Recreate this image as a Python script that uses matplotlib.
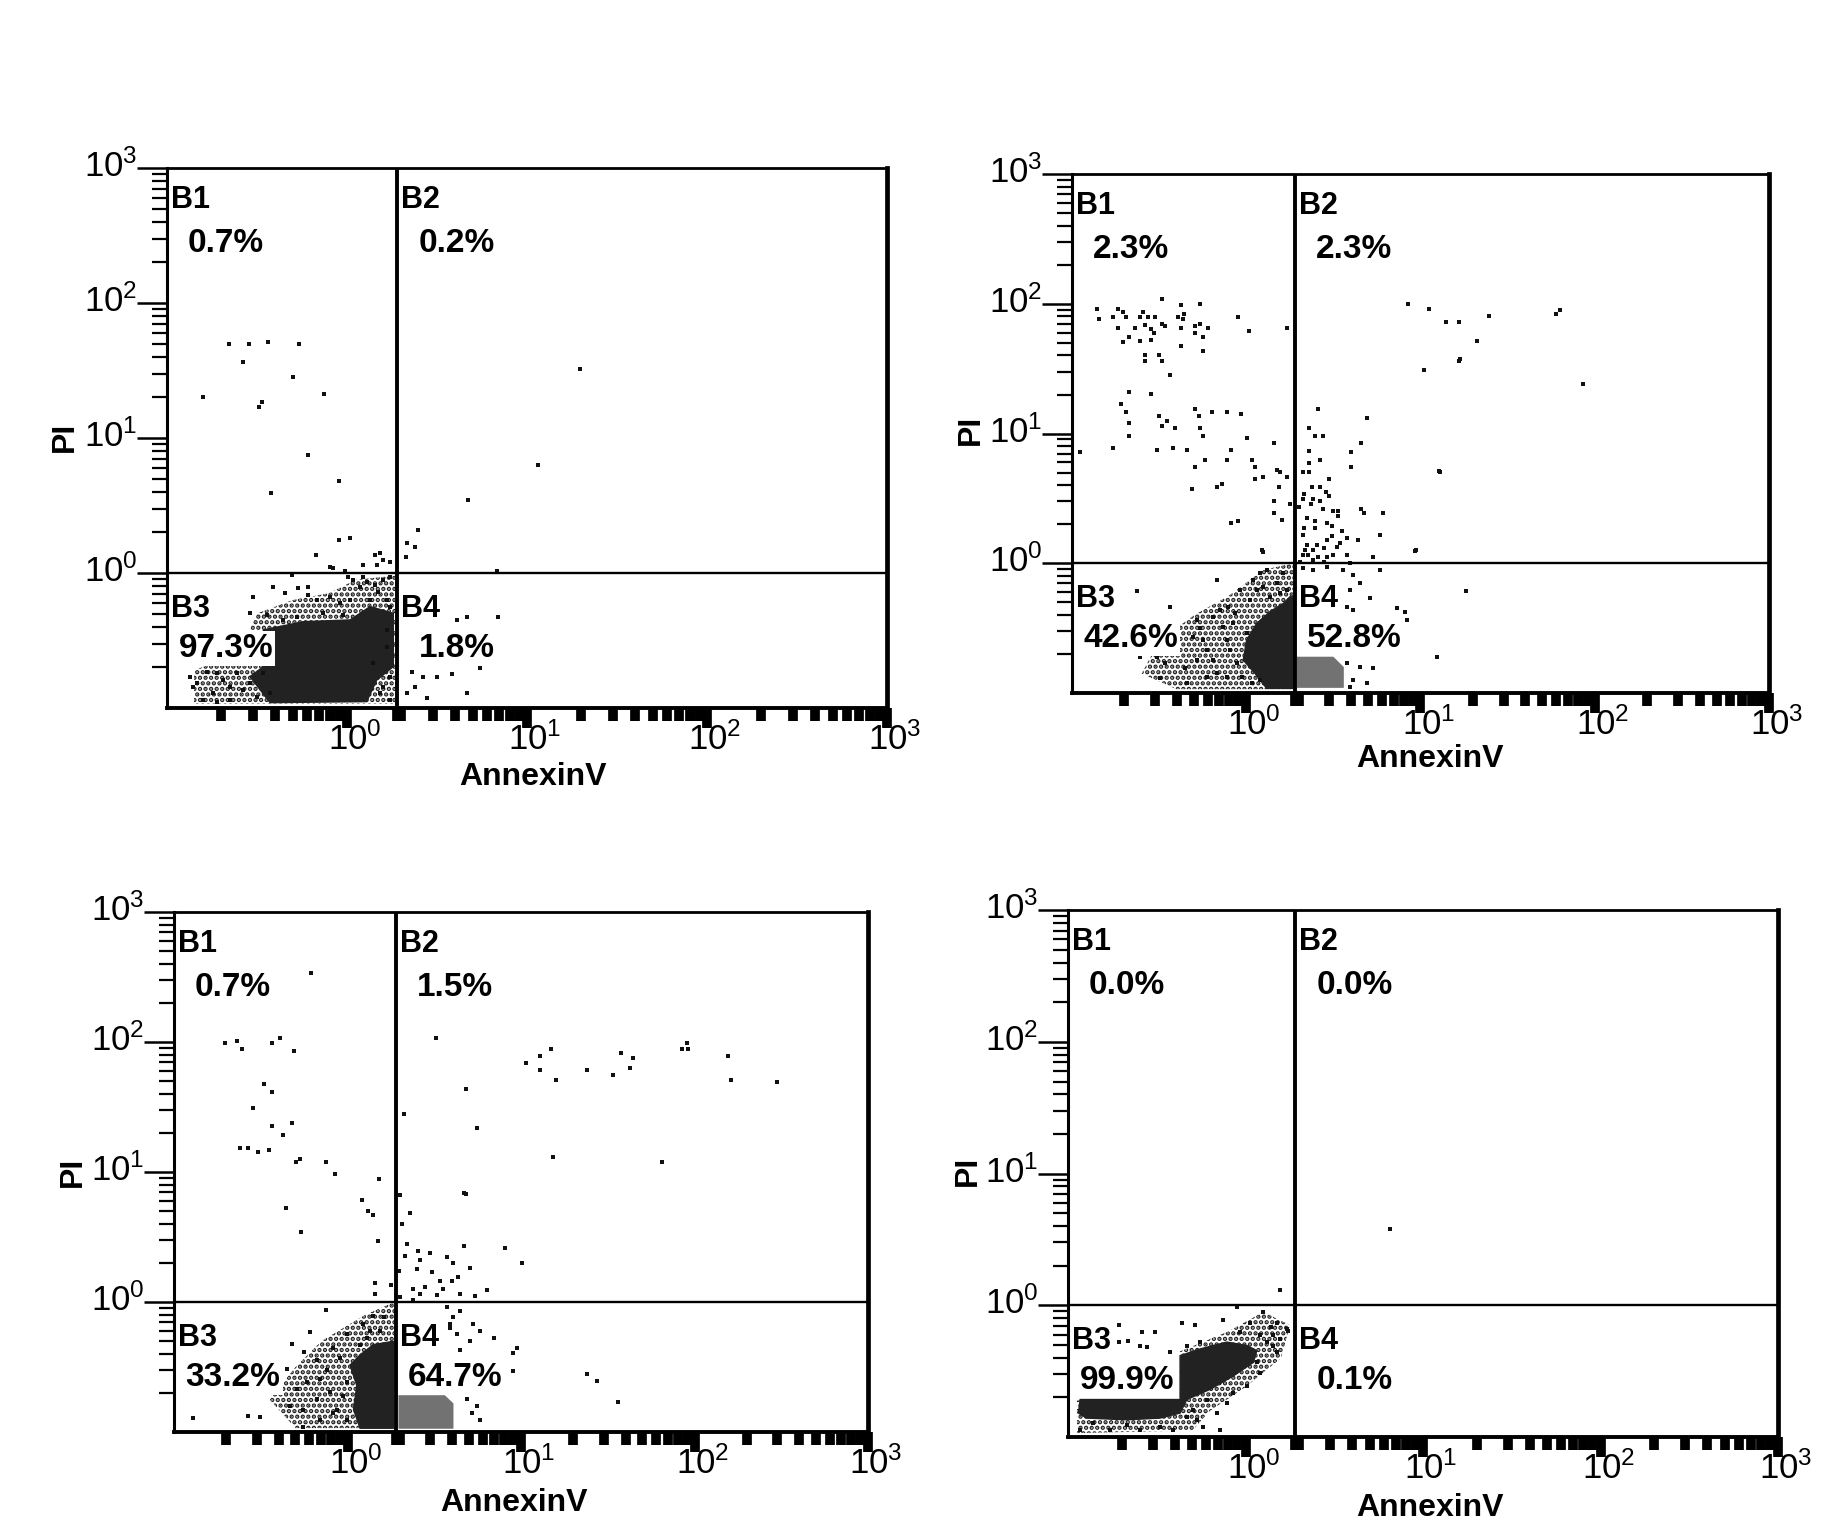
import numpy as np
import matplotlib
matplotlib.use("Agg")
import matplotlib.pyplot as plt
from matplotlib.ticker import FixedLocator, FixedFormatter, NullFormatter
from matplotlib.patches import Polygon
import matplotlib.transforms as mtrans

plt.rcParams['font.family'] = ['Liberation Sans', 'DejaVu Sans']
plt.rcParams['mathtext.fontset'] = 'custom'
plt.rcParams['mathtext.rm'] = 'Liberation Sans'
plt.rcParams['mathtext.it'] = 'Liberation Sans'
plt.rcParams['mathtext.bf'] = 'Liberation Sans:bold'
plt.rcParams['hatch.linewidth'] = 2.2

# ---------------- data (log10 decade exponents) ----------------
quadrant_names = ["B1", "B2", "B3", "B4"]
gate_annexin_log = 0.28     # vertical gate (AnnexinV)
gate_pi_log = 0.0           # horizontal gate (PI)

tick_values = [1, 10, 100, 1000]
tick_labels = [r'$\mathregular{10^{0}}$', r'$\mathregular{10^{1}}$',
               r'$\mathregular{10^{2}}$', r'$\mathregular{10^{3}}$']

# Panel 1
p1_pct = ["0.7%", "0.2%", "97.3%", "1.8%"]
p1_dots_x = [-0.656, -0.544, -0.437, -0.265, -0.580, -0.298, -0.798, -0.128, -0.474, -0.487,
             -0.218, -0.046, -0.422, -0.043, 0.017, -0.172, 0.156, 0.183,
             -0.011, 0.091, 0.202, -0.094, 0.239, 0.165,
             1.063, 0.674, 0.393, 0.332, 0.378, 0.328, 1.294, 0.833,
             0.665, 0.841, 0.609, 0.498, 0.582, 0.424, 0.665, 0.359, 0.378, 0.332, 0.443, 0.739,
             -0.520, -0.409, -0.344, -0.270, -0.215, -0.215, -0.169, -0.094, -0.039, 0.017,
             0.035, 0.072, 0.109, 0.156, 0.202, 0.239, 0.174, 0.220, 0.128, -0.020,
             -0.131, -0.280, -0.354, -0.446, -0.539, 0.239, -0.307, 0.007, -0.076, 0.091,
             -0.872, -0.835, -0.798, -0.743, -0.724, -0.687, -0.650, -0.613, -0.576, -0.539,
             -0.502, -0.650, -0.780, -0.724, -0.465, -0.428, -0.854,
             0.220, 0.239, 0.202, 0.183, 0.239, 0.146, 0.220]
p1_dots_y = [1.696, 1.696, 1.714, 1.696, 1.565, 1.449, 1.304, 1.324, 1.264, 1.232,
             0.874, 0.684, 0.595, 0.244, 0.257, 0.133, 0.133, 0.146,
             0.017, 0.059, 0.096, 0.047, 0.084, 0.059,
             0.800, 0.541, 0.319, 0.225, 0.190, 0.116, 1.511, 0.015,
             -0.324, -0.324, -0.348, -0.768, -0.748, -0.768, -0.891, -0.731, -0.842, -0.891, -0.928, -0.706,
             -0.175, -0.101, -0.151, -0.114, -0.101, -0.163, -0.200, -0.175, -0.225, -0.200,
             -0.052, -0.101, -0.064, -0.089, -0.052, -0.027, -0.138, -0.200, -0.200, -0.311,
             -0.299, -0.323, -0.348, -0.311, -0.299, -0.249, -0.015, -0.027, 0.035, -0.027,
             -0.768, -0.817, -0.941, -0.891, -0.743, -0.793, -0.842, -0.743, -0.867, -0.817,
             -0.916, -0.941, -0.731, -0.953, -0.743, -0.891, -0.842,
             -0.546, -0.768, -0.842, -0.891, -0.941, -0.669, -0.422]
p1_core_x = [-0.465, -0.243, 0.017, 0.128, 0.257, 0.257, 0.165, 0.109, -0.428, -0.539, -0.465]
p1_core_y = [-0.422, -0.361, -0.348, -0.249, -0.299, -0.694, -0.793, -0.953, -0.961, -0.768, -0.694]
p1_halo_x = [-0.85, -0.60, -0.50, -0.30, -0.10, 0.05, 0.27, 0.27, -0.85]
p1_halo_y = [-0.72, -0.60, -0.30, -0.20, -0.15, -0.05, -0.02, -0.97, -0.97]
p1_gray_x = []
p1_gray_y = []

# Panel 2
p2_pct = ["2.3%", "2.3%", "42.6%", "52.8%"]
p2_dots_x = [-0.485, -0.374, -0.265, -0.858, -0.734, -0.705, -0.594, -0.843, -0.763, -0.690,
             -0.610, -0.562, -0.524, -0.390, -0.357, -0.361, -0.045, -0.734, -0.638, -0.581,
             -0.549, -0.485, -0.466, -0.376, -0.294, -0.265, -0.218, 0.018, 0.236, -0.671,
             -0.527, -0.705, -0.610, -0.549, -0.294, -0.250, -0.374, -0.250, -0.581, -0.499,
             -0.579, -0.483, -0.438, -0.671, -0.549, -0.719, -0.690, -0.501, -0.453, -0.294,
             -0.271, -0.198, -0.109, -0.030, -0.673, -0.483, -0.407, -0.265, -0.250, -0.673,
             0.002, 0.159, -0.954, -0.763, -0.514, -0.422, -0.342, -0.089, -0.235, -0.109,
             0.035, -0.296, 0.050, 0.175, 0.194, 0.094, 0.236, 0.050, -0.311, -0.170,
             -0.137, 0.190, 0.159, 0.159, 0.251, 0.205, -0.089, -0.045, 0.088, 0.094,
             0.926, 1.051, 1.146, 1.221, 1.221, 1.020, 0.410, 0.691, 0.362, 0.395,
             0.442, 0.657, 0.362, 0.362, 0.423, 0.599, 0.599, 1.112, 0.328, 0.362,
             0.477, 0.375, 0.423, 0.458, 0.333, 0.473, 0.328, 0.385, 0.423, 0.370,
             0.442, 0.496, 0.528, 0.659, 0.676, 0.783, 0.347, 0.395, 0.461, 0.528,
             0.333, 0.395, 0.490, 0.549, 0.328, 0.461, 0.490, 0.580, 0.643, 0.768,
             0.347, 0.404, 0.337, 0.385, 0.446, 0.519, 0.538, 0.328, 0.356, 0.414,
             0.461, 0.500, 0.576, 0.725, 0.974, 0.308, 0.385, 0.446, 0.595, 0.303,
             1.801, 1.778, 1.933, 1.393, 1.324, 1.227, 1.106, 0.968,
             -0.629, -0.438, -0.610, -0.514, -0.495, -0.466, -0.352, -0.342, -0.285, -0.265,
             -0.246, -0.227, -0.189, -0.170, -0.151, -0.132, -0.112, -0.103, -0.093, -0.074,
             -0.055, -0.036, -0.026, 0.002, 0.022, 0.041, 0.060, 0.079, 0.098, 0.117,
             0.136, 0.175, 0.194, 0.213, 0.232, -0.170, -0.112, -0.227, -0.399, -0.304,
             -0.189, 0.031, 0.079, -0.065, -0.285,
             0.328, 0.385, 0.461, 0.557, 0.615, 0.653, 0.595, 0.576, 0.615, 0.710,
             0.863, 0.911, 0.921, 0.768, 1.093, 0.576, 0.653, 0.615, 0.729, 0.691,
             0.595, 1.261]
p2_dots_y = [2.034, 1.990, 1.998, 1.957, 1.957, 1.934, 1.934, 1.880, 1.900, 1.900,
             1.900, 1.900, 1.900, 1.900, 1.918, 1.880, 1.900, 1.810, 1.810, 1.836,
             1.805, 1.844, 1.829, 1.810, 1.829, 1.844, 1.810, 1.790, 1.810, 1.746,
             1.772, 1.708, 1.713, 1.721, 1.772, 1.746, 1.677, 1.638, 1.605, 1.605,
             1.561, 1.561, 1.453, 1.317, 1.302, 1.230, 1.168, 1.132, 1.096, 1.186,
             1.132, 1.168, 1.168, 1.150, 1.078, 1.060, 1.042, 1.042, 0.981, 0.981,
             0.963, 0.927, 0.855, 0.891, 0.873, 0.891, 0.873, 0.873, 0.796, 0.796,
             0.796, 0.739, 0.739, 0.719, 0.701, 0.667, 0.667, 0.647, 0.570, 0.590,
             0.608, 0.590, 0.480, 0.385, 0.457, 0.333, 0.313, 0.328, 0.102, 0.089,
             1.998, 1.957, 1.862, 1.862, 1.561, 1.489, 1.186, 1.117, 1.042, 0.981,
             0.981, 0.927, 0.863, 0.775, 0.796, 0.855, 0.739, 0.703, 0.701, 0.701,
             0.647, 0.590, 0.590, 0.552, 0.534, 0.516, 0.498, 0.498, 0.482, 0.457,
             0.416, 0.400, 0.400, 0.421, 0.385, 0.385, 0.346, 0.328, 0.313, 0.364,
             0.269, 0.269, 0.287, 0.251, 0.215, 0.179, 0.213, 0.195, 0.179, 0.215,
             0.141, 0.141, 0.102, 0.102, 0.120, 0.128, 0.153, 0.064, 0.064, 0.051,
             0.051, 0.064, 0.064, 0.046, 0.102, 0.012, 0.025, 0.012, 0.005, 0.436,
             1.952, 1.921, 1.382, 1.906, 1.713, 1.574, 0.711, 0.094,
             -0.211, -0.335, -0.720, -0.720, -0.887, -0.771, -0.810, -0.925, -0.437, -0.502,
             -0.592, -0.669, -0.412, -0.129, -0.360, -0.489, -0.592, -0.335, -0.669, -0.463,
             -0.771, -0.206, -0.874, -0.540, -0.283, -0.129, -0.206, -0.078, -0.180, -0.052,
             -0.258, -0.155, -0.232, -0.078, -0.206, -0.848, -0.874, -0.874, -0.592, -0.566,
             -0.746, -0.925, -0.900, -0.386, -0.746,
             -0.039, -0.052, -0.026, -0.052, -0.091, -0.155, -0.206, -0.335, -0.360, -0.270,
             -0.347, -0.373, -0.437, -0.052, -0.720, -0.771, -0.797, -0.900, -0.810, -0.925,
             -0.951, -0.214]
p2_core_x = [0.251, 0.270, 0.270, 0.117, 0.050, -0.017, 0.002, 0.060, 0.136, 0.213]
p2_core_y = [-0.258, -0.258, -0.964, -0.964, -0.848, -0.746, -0.592, -0.463, -0.373, -0.309]
p2_halo_x = [-0.50, -0.30, -0.10, 0.10, 0.27, 0.27, -0.40, -0.60]
p2_halo_y = [-0.60, -0.40, -0.25, -0.05, 0.00, -0.97, -0.97, -0.85]
p2_gray_x = [0.29, 0.50, 0.56, 0.56, 0.29]
p2_gray_y = [-0.72, -0.72, -0.80, -0.96, -0.96]

# Panel 3
p3_pct = ["0.7%", "1.5%", "33.2%", "64.7%"]
p3_dots_x = [-0.704, -0.640, -0.607, -0.437, -0.392, -0.309, -0.482, -0.434, -0.545, -0.434,
             -0.323, -0.373, -0.621, -0.574, -0.517, -0.451, -0.295, -0.276, -0.124, -0.075,
             0.183, -0.210,
             -0.356, -0.270, 0.082, 0.120, 0.145, 0.174, 0.158, 0.158, 0.249,
             0.509, 1.171, 1.110, 1.029, 1.110, 1.199, 1.377, 1.531, 1.578, 1.644,
             1.630, 1.928, 1.961, 1.958, 2.193, 2.209, 2.477, 0.684, 0.325, 0.746,
             1.186, 1.814, 0.684,
             0.673, 0.303, 0.360, 0.316, 0.345, 0.673, 0.908, 1.004, 0.331, 0.408,
             0.472, 0.418, 0.572, 0.606, 0.706, 0.402, 0.485, 0.299, 0.447, 0.533,
             0.600, 0.639, 0.379, 0.418, 0.514, 0.552, 0.648, 0.735, 0.802, 0.303, 0.379,
             -0.126, -0.216, -0.322, -0.251, -0.005, 0.091, 0.149, 0.207, 0.130, 0.187,
             -0.082, -0.043, -0.178, -0.120, -0.159, -0.235, -0.293, -0.331, -0.255, -0.178,
             -0.101, -0.062, -0.005, -0.024, -0.159, -0.255, -0.504, -0.572, -0.889, -0.562,
             -0.351, -0.005, -0.082, 0.072, 0.110,
             0.572, 0.648, 0.610, 0.725, 0.764, 0.841, 0.975, 0.956, 0.956, 1.378,
             1.436, 0.591, 0.629, 0.706, 0.648, 0.744, 0.764, 0.687, 0.716, 0.591, 1.559]
p3_dots_y = [1.990, 2.008, 1.949, 1.990, 2.028, 1.931, 1.674, 1.616, 1.489, 1.356,
             1.374, 1.285, 1.188, 1.188, 1.153, 1.170, 1.079, 1.099, 1.079, 0.987,
             0.949, 2.527,
             0.725, 0.542, 0.781, 0.700, 0.667, 0.466, 0.145, 0.059, 0.127,
             2.028, 1.949, 1.895, 1.842, 1.784, 1.710, 1.784, 1.746, 1.914, 1.878,
             1.802, 1.949, 1.949, 1.990, 1.895, 1.710, 1.692, 1.639, 1.448, 1.338,
             1.117, 1.079, 0.834,
             0.835, 0.822, 0.687, 0.598, 0.445, 0.427, 0.412, 0.298, 0.356, 0.394,
             0.374, 0.323, 0.344, 0.298, 0.262, 0.254, 0.229, 0.242, 0.115, 0.165,
             0.165, 0.191, 0.102, 0.064, 0.051, 0.102, 0.059, 0.043, 0.094, 0.038, 0.018,
             -0.058, -0.228, -0.320, -0.381, -0.244, -0.171, -0.105, -0.113, -0.223, -0.223,
             -0.354, -0.433, -0.446, -0.525, -0.591, -0.617, -0.669, -0.801, -0.827, -0.748,
             -0.696, -0.827, -0.617, -0.722, -0.906, -0.958, -0.885, -0.879, -0.892, -0.696,
             -0.512, -0.906, -0.853, -0.328, -0.276,
             -0.039, -0.066, -0.118, -0.171, -0.223, -0.276, -0.354, -0.394, -0.533, -0.551,
             -0.609, -0.197, -0.249, -0.302, -0.367, -0.801, -0.906, -0.748, -0.853, -0.171, -0.772]
p3_core_x = [0.149, 0.264, 0.264, 0.072, 0.034, 0.053, 0.014, 0.072]
p3_core_y = [-0.328, -0.302, -0.971, -0.971, -0.827, -0.643, -0.486, -0.407]
p3_halo_x = [-0.45, -0.30, -0.15, 0.10, 0.27, 0.27, -0.30]
p3_halo_y = [-0.75, -0.50, -0.30, -0.10, 0.00, -0.97, -0.97]
p3_gray_x = [0.293, 0.560, 0.610, 0.610, 0.293]
p3_gray_y = [-0.717, -0.717, -0.780, -0.975, -0.975]

# Panel 4
p4_pct = ["0.0%", "0.0%", "99.9%", "0.1%"]
p4_dots_x = [-0.716, -0.585, -0.510, -0.660, -0.594, -0.557, -0.716, -0.360, -0.285, -0.125,
             -0.050, 0.025, 0.097, 0.142, 0.179, 0.241, 0.232, -0.031, 0.082, 0.119,
             0.157, 0.176, 0.082, 0.063, 0.007, -0.069, -0.106, -0.162, -0.219, -0.294,
             -0.275, -0.331, -0.407, -0.144, -0.238, -0.482, -0.594, -0.763, -0.932, -0.857,
             -0.669, -0.331, -0.425, -0.256, 0.157, 0.194,
             0.194, 0.814]
p4_dots_y = [-0.146, -0.203, -0.203, -0.267, -0.305, -0.318, -0.279, -0.131, -0.146, -0.108,
             -0.013, -0.131, -0.054, -0.164, -0.131, -0.197, -0.177, -0.203, -0.228, -0.279,
             -0.305, -0.356, -0.510, -0.433, -0.613, -0.664, -0.741, -0.818, -0.715, -0.792,
             -0.869, -0.844, -0.946, -0.946, -0.921, -0.921, -0.946, -0.946, -0.946, -0.895,
             -0.908, -0.305, -0.356, -0.279, -0.228, -0.254,
             0.116, 0.582]
p4_core_x = [-0.932, -0.369, -0.369, -0.256, -0.106, 0.007, 0.063, 0.044, -0.069, -0.200,
             -0.331, -0.369, -0.482, -0.669, -0.895, -0.942]
p4_core_y = [-0.715, -0.715, -0.382, -0.331, -0.279, -0.305, -0.344, -0.433, -0.536, -0.638,
             -0.715, -0.818, -0.856, -0.869, -0.856, -0.818]
p4_halo_x = [-0.95, -0.95, -0.37, -0.37, -0.10, 0.10, 0.25, 0.20, 0.00, -0.20, -0.30]
p4_halo_y = [-0.97, -0.72, -0.72, -0.35, -0.20, -0.05, -0.15, -0.40, -0.62, -0.80, -0.95]
p4_gray_x = []
p4_gray_y = []

panels = [
    dict(rect=[0.0905, 0.5388, 0.3900, 0.3518], pct=p1_pct, dx=p1_dots_x, dy=p1_dots_y,
         cx=p1_core_x, cy=p1_core_y, hx=p1_halo_x, hy=p1_halo_y, gx=p1_gray_x, gy=p1_gray_y,
         pi=(-0.142, 0.502), ann=(0.508, -0.128)),
    dict(rect=[0.5807, 0.5485, 0.3776, 0.3381], pct=p2_pct, dx=p2_dots_x, dy=p2_dots_y,
         cx=p2_core_x, cy=p2_core_y, hx=p2_halo_x, hy=p2_halo_y, gx=p2_gray_x, gy=p2_gray_y,
         pi=(-0.145, 0.507), ann=(0.514, -0.127)),
    dict(rect=[0.0943, 0.0671, 0.3760, 0.3388], pct=p3_pct, dx=p3_dots_x, dy=p3_dots_y,
         cx=p3_core_x, cy=p3_core_y, hx=p3_halo_x, hy=p3_halo_y, gx=p3_gray_x, gy=p3_gray_y,
         pi=(-0.146, 0.500), ann=(0.489, -0.137)),
    dict(rect=[0.5786, 0.0638, 0.3846, 0.3433], pct=p4_pct, dx=p4_dots_x, dy=p4_dots_y,
         cx=p4_core_x, cy=p4_core_y, hx=p4_halo_x, hy=p4_halo_y, gx=p4_gray_x, gy=p4_gray_y,
         pi=(-0.141, 0.505), ann=(0.510, -0.135)),
]

fig = plt.figure(figsize=(18.46, 15.35), dpi=100)

def pow10(a):
    return np.power(10.0, np.asarray(a, dtype=float))

for p in panels:
    ax = fig.add_axes(p['rect'])
    ax.set_xscale('log')
    ax.set_yscale('log')
    ax.set_xlim(0.1, 1000)
    ax.set_ylim(0.1, 1000)

    # density regions
    if len(p['hx']):
        ax.add_patch(Polygon(np.column_stack([pow10(p['hx']), pow10(p['hy'])]),
                             closed=True, facecolor='none', edgecolor='#1e1e1e',
                             linewidth=0, hatch='...', zorder=1))
    if len(p['gx']):
        ax.add_patch(Polygon(np.column_stack([pow10(p['gx']), pow10(p['gy'])]),
                             closed=True, facecolor='#727272', edgecolor='none', zorder=2))
    ax.add_patch(Polygon(np.column_stack([pow10(p['cx']), pow10(p['cy'])]),
                         closed=True, facecolor='#222222', edgecolor='#222222',
                         linewidth=1, zorder=2))
    ax.plot(pow10(p['dx']), pow10(p['dy']), linestyle='none', marker='s',
            markersize=2.6, markeredgewidth=0, color='#111111', zorder=3)

    # quadrant gates
    gx = 10 ** gate_annexin_log
    gy = 10 ** gate_pi_log
    ax.axvline(gx, color='black', linewidth=2.8, zorder=4)
    ax.axhline(gy, color='black', linewidth=1.7, zorder=4)

    # quadrant labels
    anchors = [(0.1, 1000), (gx, 1000), (0.1, gy), (gx, gy)]
    for i, (ax_x, ax_y) in enumerate(anchors):
        b_off = -40 if i < 2 else -44
        ax.annotate(quadrant_names[i], xy=(ax_x, ax_y), xycoords='data',
                    xytext=(4, b_off), textcoords='offset pixels',
                    ha='left', va='baseline', fontsize=22, fontweight='bold', zorder=6)
        ax.annotate(p['pct'][i], xy=(ax_x, ax_y), xycoords='data',
                    xytext=(59, -84), textcoords='offset pixels',
                    ha='center', va='baseline', fontsize=24, fontweight='bold', zorder=6,
                    bbox=dict(facecolor='white', edgecolor='none', pad=1.5))

    # spines
    ax.spines['left'].set_linewidth(2.2)
    ax.spines['bottom'].set_linewidth(2.8)
    ax.spines['top'].set_linewidth(2.0)
    ax.spines['right'].set_linewidth(3.4)
    for s in ax.spines.values():
        s.set_zorder(5)

    # ticks
    minor_y = [m * 10.0 ** e for e in (-1, 0, 1, 2) for m in range(2, 10)]
    minor_x = minor_y + [gx]
    ax.xaxis.set_major_locator(FixedLocator(tick_values))
    ax.yaxis.set_major_locator(FixedLocator(tick_values))
    ax.xaxis.set_major_formatter(FixedFormatter(tick_labels))
    ax.yaxis.set_major_formatter(FixedFormatter(tick_labels))
    ax.xaxis.set_minor_locator(FixedLocator(minor_x))
    ax.yaxis.set_minor_locator(FixedLocator(minor_y))
    ax.xaxis.set_minor_formatter(NullFormatter())
    ax.yaxis.set_minor_formatter(NullFormatter())
    ax.tick_params(axis='x', which='major', direction='out', length=14.5, width=7,
                   labelsize=25, pad=-4, top=False)
    ax.tick_params(axis='x', which='minor', direction='out', length=9, width=7, top=False)
    ax.tick_params(axis='y', which='major', direction='out', length=21.5, width=1.8,
                   labelsize=25, pad=0, right=False)
    ax.tick_params(axis='y', which='minor', direction='out', length=10.8, width=1.6, right=False)
    off = mtrans.ScaledTranslation(8 / 100, 0, fig.dpi_scale_trans)
    for lab in ax.get_xticklabels():
        lab.set_transform(lab.get_transform() + off)
    offy = mtrans.ScaledTranslation(0, 5 / 100, fig.dpi_scale_trans)
    for lab in ax.get_yticklabels():
        lab.set_transform(lab.get_transform() + offy)

    # axis titles
    ax.text(p['pi'][0], p['pi'][1], 'PI', transform=ax.transAxes, rotation=90,
            ha='center', va='center', fontsize=23, fontweight='bold')
    ax.text(p['ann'][0], p['ann'][1], 'AnnexinV', transform=ax.transAxes,
            ha='center', va='center', fontsize=23, fontweight='bold')

fig.savefig('out.png', dpi=100, facecolor='white')
